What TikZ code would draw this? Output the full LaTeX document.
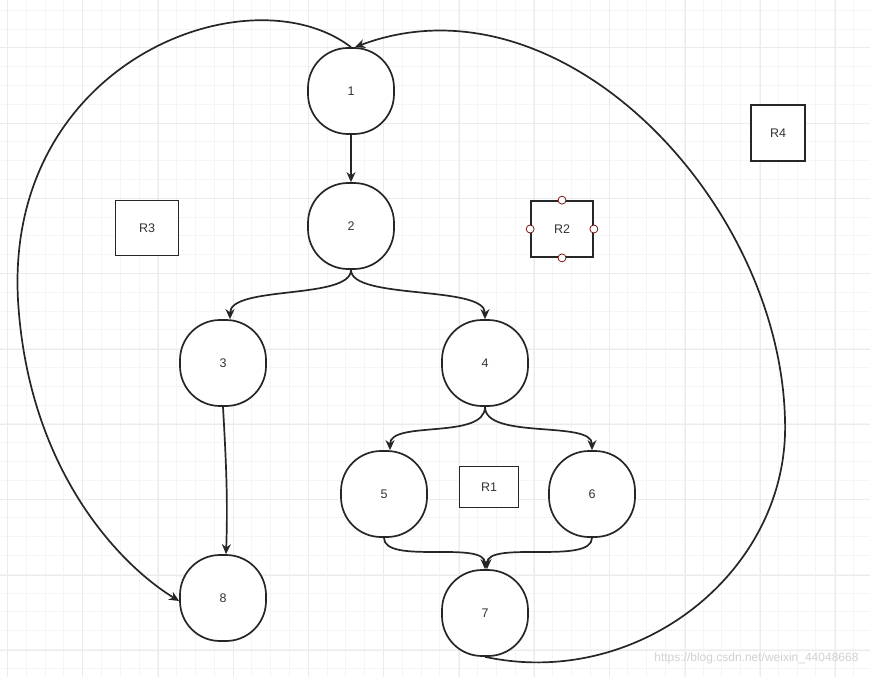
\documentclass[tikz,border=0pt]{standalone}
\usepackage{fontspec}
\setmainfont{Liberation Sans}
\usetikzlibrary{arrows.meta}
\begin{document}
\begin{tikzpicture}[x=1pt,y=-1pt,
  vnode/.style={draw=black!85,line width=1.7pt,fill=white,minimum width=86pt,minimum height=86pt,rounded corners=40pt,font=\fontsize{12.5}{14}\selectfont,text=black!80},
  region/.style={draw=black!85,line width=1.7pt,fill=white,font=\fontsize{12.5}{14}\selectfont,text=black!80,inner sep=0pt},
  edge/.style={draw=black!85,line width=1.7pt,-{Stealth[length=10pt,width=9pt]}},
  port/.style={circle,draw=red!40!black,fill=white,inner sep=0pt,minimum size=8pt,line width=0.7pt}]
\useasboundingbox (0,0) rectangle (870,677);
\fill[white] (0,0) rectangle (870,677);
\foreach \x in {7.3,26.1,...,870}{\draw[black!4,line width=0.8pt] (\x,0)--(\x,677);}
\foreach \y in {10.2,29,...,677}{\draw[black!4,line width=0.8pt] (0,\y)--(870,\y);}
\foreach \x in {7.3,82.6,...,870}{\draw[black!8,line width=0.8pt] (\x,0)--(\x,677);}
\foreach \y in {47.8,123.1,...,677}{\draw[black!8,line width=0.8pt] (0,\y)--(870,\y);}
\node[vnode] (n1) at (351,91) {1};
\node[vnode] (n2) at (351,226) {2};
\node[vnode] (n3) at (223,363) {3};
\node[vnode] (n4) at (485,363) {4};
\node[vnode] (n5) at (384,494) {5};
\node[vnode] (n6) at (592,494) {6};
\node[vnode] (n7) at (485,613) {7};
\node[vnode] (n8) at (223,598) {8};
\node[region,minimum width=63pt,minimum height=55pt] (r3) at (147,228) {R3};
\node[region,minimum width=62pt,minimum height=56pt] (r2) at (562,229) {R2};
\node[region,minimum width=54pt,minimum height=56pt] (r4) at (778,133) {R4};
\node[region,minimum width=59pt,minimum height=41pt] (r1) at (489,487) {R1};
\node[port] (p1) at (r2.north) {};
\node[port] (p2) at (r2.south) {};
\node[port] (p3) at (r2.west) {};
\node[port] (p4) at (r2.east) {};
\draw[edge] (n1) -- (n2);
\draw[edge] (n2.south) .. controls (351,300) and (230,285) .. ([xshift=7pt]n3.north);
\draw[edge] (n2.south) .. controls (351,300) and (485,285) .. (n4.north);
\draw[edge] (n3.south) .. controls (226,460) and (228,500) .. ([xshift=3pt]n8.north);
\draw[edge] (n4.south) .. controls (485,440) and (390,420) .. ([xshift=6pt]n5.north);
\draw[edge] (n4.south) .. controls (485,440) and (592,420) .. (n6.north);
\draw[edge] (n5.south) .. controls (384,565) and (485,540) .. (n7.north);
\draw[edge] (n6.south) .. controls (592,565) and (487,540) .. ([xshift=2pt]n7.north);
\draw[edge] (n1.north) .. controls (250,-30) and (5,60) .. (18,300) .. controls (28,470) and (120,565) .. ([yshift=-3pt]n8.west);
\draw[edge] (n7.south) .. controls (640,690) and (790,570) .. (785,420) .. controls (780,200) and (560,-30) .. ([xshift=4pt]n1.north);
\node[text=black!18,font=\fontsize{12}{14}\selectfont,anchor=east] (wm) at (862,658) {https://blog.csdn.net/weixin\_44048668};
\end{tikzpicture}
\end{document}
